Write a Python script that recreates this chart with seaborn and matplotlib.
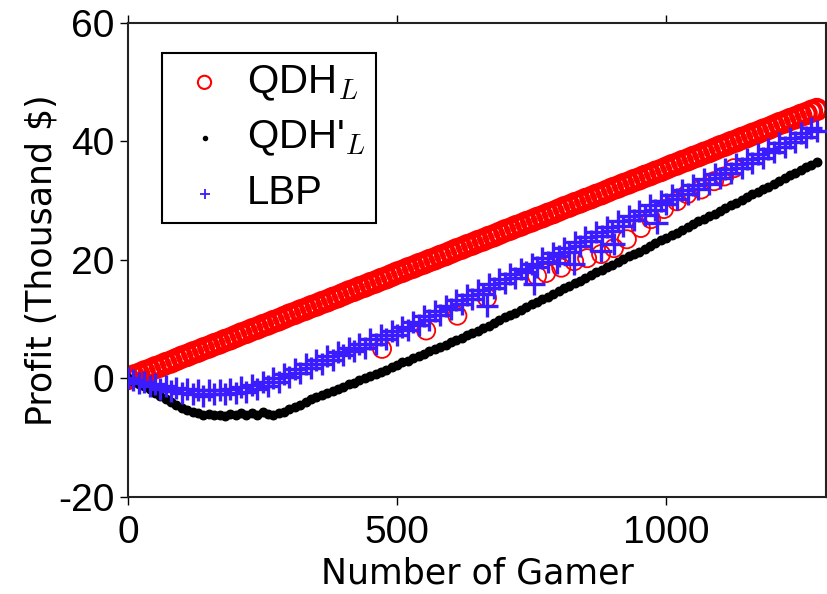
import matplotlib
matplotlib.use('Agg')
import matplotlib.pyplot as plt
import numpy as np
import pandas as pd
import seaborn as sns

# number of gamers (every 10th point)
gamers = list(range(0, 1290, 10))

# QDH_L profit (thousand $)
qdh_l = [0.0, 0.4, 0.7, 1.1, 1.4, 1.8, 2.1, 2.5, 2.8, 3.2,
         3.6, 3.9, 4.3, 4.6, 5.0, 5.3, 5.7, 6.0, 6.4, 6.7,
         7.1, 7.5, 7.8, 8.2, 8.5, 8.9, 9.2, 9.6, 9.9, 10.3,
         10.7, 11.0, 11.4, 11.7, 12.1, 12.4, 12.8, 13.1, 13.5, 13.8,
         14.2, 14.6, 14.9, 15.3, 15.6, 16.0, 16.3, 16.7, 17.0, 17.4,
         17.8, 18.1, 18.5, 18.8, 19.2, 19.5, 19.9, 20.2, 20.6, 20.9,
         21.3, 21.7, 22.0, 22.4, 22.7, 23.1, 23.4, 23.8, 24.1, 24.5,
         24.9, 25.2, 25.6, 25.9, 26.3, 26.6, 27.0, 27.3, 27.7, 28.0,
         28.4, 28.8, 29.1, 29.5, 29.8, 30.2, 30.5, 30.9, 31.2, 31.6,
         32.0, 32.3, 32.7, 33.0, 33.4, 33.7, 34.1, 34.4, 34.8, 35.1,
         35.5, 35.9, 36.2, 36.6, 36.9, 37.3, 37.6, 38.0, 38.3, 38.7,
         39.1, 39.4, 39.8, 40.1, 40.5, 40.8, 41.2, 41.5, 41.9, 42.2,
         42.6, 43.0, 43.3, 43.7, 44.0, 44.4, 44.7, 45.1, 45.4]

# the few QDH_L points that fall on the LBP curve
qdh_l_low_x = [472, 554, 612, 667, 760, 777, 805, 829, 853, 879,
               903, 927, 953, 972, 996, 1020, 1039, 1065, 1089, 1108, 1126]
qdh_l_low_y = [5.0, 8.1, 10.6, 13.6, 17.3, 17.8, 18.7, 19.8, 20.3, 21.0,
               22.0, 23.5, 25.4, 26.9, 28.6, 29.9, 31.1, 31.9, 33.3, 34.1, 35.5]

# QDH'_L profit
qdh_l_prime = [0.0, -0.4, -0.9, -1.3, -1.8, -2.4, -2.9, -3.4, -3.9, -4.4,
               -4.9, -5.3, -5.6, -5.9, -6.1, -6.0, -6.2, -6.1, -6.3, -6.0,
               -6.2, -5.9, -6.2, -5.8, -6.1, -5.7, -6.0, -6.2, -5.9, -5.6,
               -5.2, -4.8, -4.4, -3.9, -3.5, -3.1, -2.8, -2.4, -2.1, -1.7,
               -1.4, -1.0, -0.7, -0.3, 0.0, 0.4, 0.8, 1.1, 1.5, 1.9,
               2.3, 2.7, 3.0, 3.4, 3.8, 4.2, 4.6, 5.0, 5.3, 5.7,
               6.1, 6.5, 6.9, 7.3, 7.6, 8.0, 8.5, 8.9, 9.4, 9.8,
               10.3, 10.7, 11.1, 11.6, 12.0, 12.5, 12.9, 13.4, 13.8, 14.3,
               14.7, 15.2, 15.6, 16.1, 16.5, 17.0, 17.4, 17.9, 18.3, 18.8,
               19.2, 19.7, 20.1, 20.6, 21.0, 21.4, 21.9, 22.3, 22.8, 23.3,
               23.7, 24.2, 24.6, 25.1, 25.5, 26.0, 26.5, 26.9, 27.4, 27.8,
               28.3, 28.8, 29.2, 29.7, 30.1, 30.6, 31.1, 31.5, 32.0, 32.4,
               32.9, 33.4, 33.8, 34.3, 34.7, 35.2, 35.7, 36.1, 36.6]

# LBP profit (noisy band)
lbp = [0.0, -0.2, -0.8, -0.6, -1.3, -0.9, -1.7, -1.3, -2.1, -1.6,
       -2.5, -1.8, -2.7, -2.0, -2.9, -2.0, -2.7, -1.9, -2.6, -1.7,
       -2.4, -1.4, -2.2, -1.1, -1.8, -0.6, -1.2, 0.1, -0.6, 0.8,
       0.2, 1.6, 1.0, 2.4, 1.8, 3.1, 2.5, 3.8, 3.2, 4.5,
       3.9, 5.2, 4.6, 5.9, 5.2, 6.6, 5.9, 7.3, 6.6, 8.0,
       7.3, 8.7, 8.2, 9.6, 9.0, 10.5, 9.9, 11.4, 10.8, 12.3,
       11.7, 13.2, 12.6, 14.1, 13.5, 15.0, 14.3, 15.9, 15.2, 16.8,
       16.1, 17.7, 17.0, 18.5, 17.9, 19.4, 18.8, 20.3, 19.7, 21.2,
       20.6, 22.1, 21.4, 23.0, 22.3, 23.9, 23.2, 24.7, 24.1, 25.6,
       24.9, 26.5, 25.8, 27.4, 26.7, 28.3, 27.6, 29.2, 28.5, 30.0,
       29.4, 30.9, 30.3, 31.8, 31.2, 32.7, 32.0, 33.6, 32.9, 34.5,
       33.8, 35.3, 34.7, 36.2, 35.6, 37.1, 36.4, 37.9, 37.2, 38.7,
       38.2, 39.7, 39.1, 40.6, 39.9, 41.4, 40.8, 42.3, 41.7]

# LBP points that drop below the band
lbp_low_x = [667, 755, 797, 829, 879, 903, 983]
lbp_low_y = [12.3, 16.0, 19.5, 19.3, 21.5, 22.7, 26.2]

sns.set_theme(style='ticks')
plt.rcParams['font.family'] = ['Liberation Sans', 'DejaVu Sans']
plt.rcParams['axes.unicode_minus'] = False
plt.rcParams['mathtext.fontset'] = 'cm'
plt.rcParams['text.color'] = 'black'
plt.rcParams['axes.labelcolor'] = 'black'

fig = plt.figure(figsize=(8.27, 5.94), dpi=100)
ax = fig.add_axes([0.1548, 0.1633, 0.844, 0.798])

red = pd.DataFrame({'x': gamers, 'y': qdh_l})
red_low = pd.DataFrame({'x': qdh_l_low_x, 'y': qdh_l_low_y})
black = pd.DataFrame({'x': gamers, 'y': qdh_l_prime})
blue = pd.DataFrame({'x': gamers + lbp_low_x, 'y': lbp + lbp_low_y})

sns.scatterplot(data=red, x='x', y='y', marker='o', s=190, color='red',
                facecolor='none', edgecolor='red', linewidth=3.0,
                label='QDH$_L$', ax=ax, zorder=2)
sns.scatterplot(data=red_low, x='x', y='y', marker='o', s=170, color='red',
                facecolor='none', edgecolor='red', linewidth=1.3,
                ax=ax, zorder=2)
sns.scatterplot(data=black, x='x', y='y', marker='.', s=150, color='black',
                edgecolor='black', linewidth=1.0, label="QDH'$_L$", ax=ax, zorder=3)
sns.scatterplot(data=blue, x='x', y='y', marker='+', s=230, color='#3a1cff',
                linewidth=2.4, label='LBP', ax=ax, zorder=4)

ax.set_xlim(0, 1297)
ax.set_ylim(-20, 60)
ax.set_xticks([0, 500, 1000])
ax.set_yticks([-20, 0, 20, 40, 60])
ax.tick_params(direction='out', length=6, width=1, top=True, right=True,
               labelsize=28, colors='black')
ax.tick_params(axis='x', pad=7)
ax.tick_params(axis='y', pad=4)
for sp in ax.spines.values():
    sp.set_linewidth(1.5)
    sp.set_color('#222222')

ax.set_xlabel('Number of Gamer', fontsize=25, family='DejaVu Sans')
ax.set_ylabel('Profit (Thousand $)', fontsize=25, family='DejaVu Sans')
ax.xaxis.set_label_coords(0.5, -0.125)
ax.yaxis.set_label_coords(-0.1, 0.5)

leg = ax.legend(loc='upper left', bbox_to_anchor=(0.049, 0.937), borderaxespad=0,
                fancybox=False, edgecolor='black', framealpha=1, fontsize=29,
                handlelength=1.6, handletextpad=0.25, borderpad=0.25,
                labelspacing=0.4, scatterpoints=1)
leg.get_frame().set_linewidth(1.5)
hs = leg.legend_handles
hs[0].set_sizes([90])
hs[0].set_linewidth(1.5)
hs[1].set_sizes([35])
hs[2].set_sizes([60])
hs[2].set_linewidth(1.3)

fig.savefig('out.png', dpi=100)
